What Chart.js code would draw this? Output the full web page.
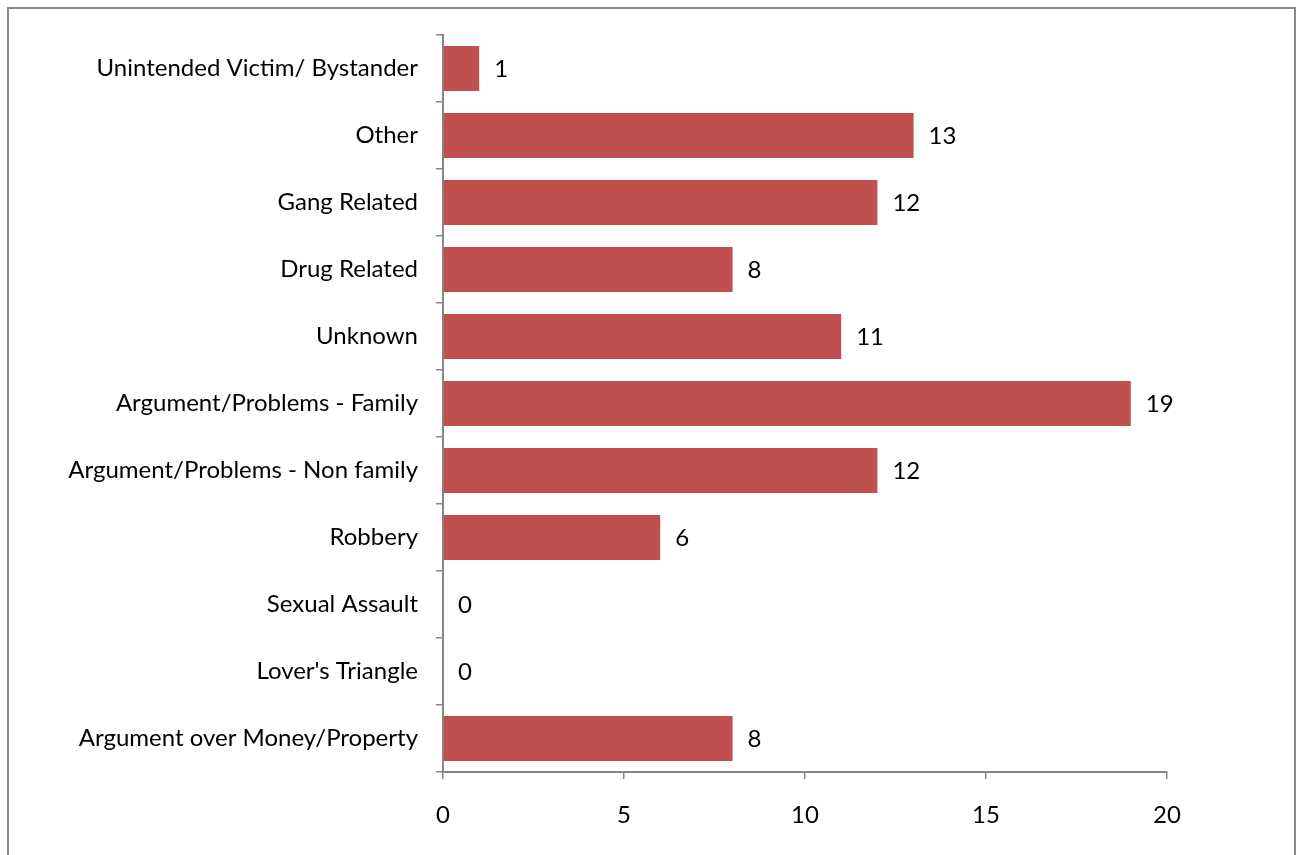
<!DOCTYPE html>
<html>
<head>
<meta charset="utf-8">
<script src="https://cdn.jsdelivr.net/npm/chart.js@4"></script>
<style>
  html, body { margin: 0; padding: 0; background: #fff; }
  #wrap { position: relative; width: 1297px; height: 855px; }
</style>
</head>
<body>
<div id="wrap"><canvas id="chart" width="1297" height="855"></canvas></div>
<script>
// categories, top to bottom as drawn
const categories = [
    'Unintended Victim/ Bystander',
    'Other',
    'Gang Related',
    'Drug Related',
    'Unknown',
    'Argument/Problems - Family',
    'Argument/Problems - Non family',
    'Robbery',
    'Sexual Assault',
    "Lover's Triangle",
    'Argument over Money/Property'
];
const counts = [1, 13, 12, 8, 11, 19, 12, 6, 0, 0, 8];
const xTicks = [0, 5, 10, 15, 20];

const FONT = 'Lato, "Open Sans", sans-serif';
const FONT_SIZE = 24;
const AXIS_GREY = '#868686';

// outer frame like the source image
const framePlugin = {
    id: 'frame',
    beforeDraw(chart) {
        const ctx = chart.ctx;
        ctx.save();
        ctx.fillStyle = '#ffffff';
        ctx.fillRect(0, 0, chart.width, chart.height);
        ctx.strokeStyle = '#8a8a8a';
        ctx.lineWidth = 2;
        ctx.strokeRect(8, 8, 1287, 900);
        ctx.restore();
    }
};

// value labels right of each bar
const valueLabels = {
    id: 'valueLabels',
    afterDatasetsDraw(chart) {
        const ctx = chart.ctx;
        const meta = chart.getDatasetMeta(0);
        ctx.save();
        ctx.font = FONT_SIZE + 'px ' + FONT;
        ctx.fillStyle = '#000';
        ctx.textAlign = 'left';
        ctx.textBaseline = 'middle';
        meta.data.forEach((bar, i) => {
            ctx.fillText(String(counts[i]), bar.x + 15, bar.y + 1);
        });
        ctx.restore();
    }
};

new Chart(document.getElementById('chart'), {
    type: 'bar',
    data: {
        labels: categories,
        datasets: [{
            data: counts,
            backgroundColor: '#C0504D',
            borderWidth: 0,
            categoryPercentage: 1,
            barPercentage: 0.67
        }]
    },
    options: {
        indexAxis: 'y',
        responsive: false,
        animation: false,
        layout: { padding: { top: 35, right: 130, left: 0, bottom: 0 } },
        plugins: {
            legend: { display: false },
            tooltip: { enabled: false }
        },
        scales: {
            x: {
                min: 0,
                max: 20,
                afterBuildTicks: s => { s.ticks = xTicks.map(v => ({ value: v })); },
                afterFit: s => { s.height = 83; },
                grid: { drawOnChartArea: false, drawTicks: true, tickLength: 7, color: AXIS_GREY, lineWidth: 1.5 },
                border: { color: AXIS_GREY, width: 2 },
                ticks: { color: '#000', font: { size: FONT_SIZE, family: FONT }, padding: 22 }
            },
            y: {
                afterFit: s => { s.width = 443; },
                grid: { drawOnChartArea: false, drawTicks: true, tickLength: 7, color: AXIS_GREY, lineWidth: 1.5, offset: true },
                border: { color: AXIS_GREY, width: 2 },
                ticks: { color: '#000', font: { size: FONT_SIZE, family: FONT }, padding: 18, autoSkip: false }
            }
        }
    },
    plugins: [framePlugin, valueLabels]
});
</script>
</body>
</html>
